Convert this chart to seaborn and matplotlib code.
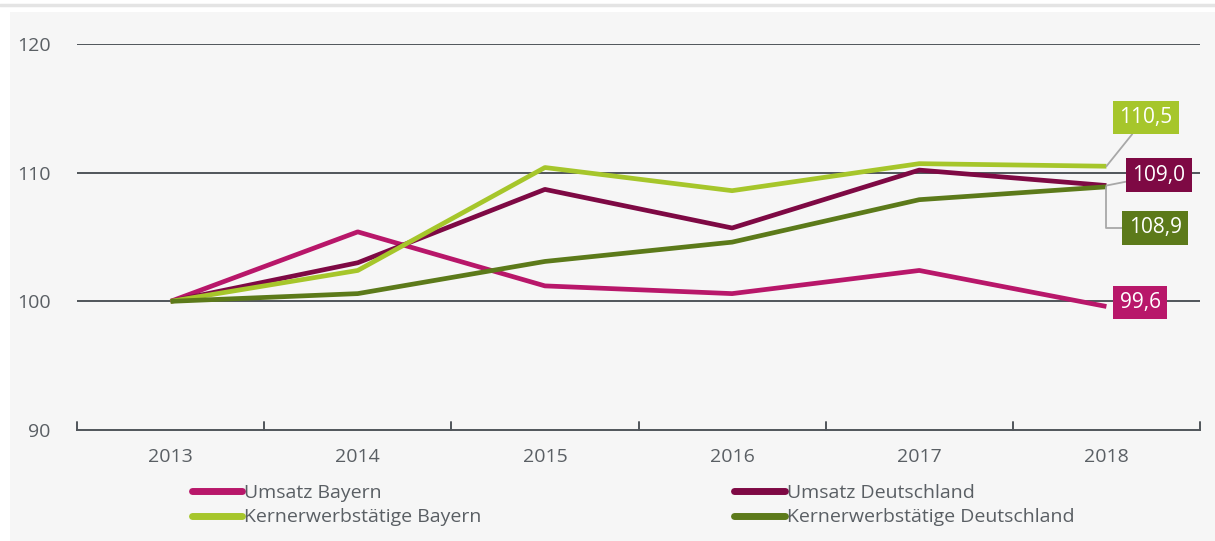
import numpy as np
import pandas as pd
import matplotlib
matplotlib.use("Agg")
import matplotlib.pyplot as plt
import seaborn as sns
from matplotlib.patches import Rectangle
from matplotlib.lines import Line2D

years = ["2013", "2014", "2015", "2016", "2017", "2018"]
series_names = ["Umsatz Bayern", "Umsatz Deutschland",
                "Kernerwerbstätige Bayern", "Kernerwerbstätige Deutschland"]
umsatz_bayern = [100.0, 105.4, 101.2, 100.6, 102.4, 99.6]
umsatz_de = [100.0, 103.0, 108.7, 105.7, 110.2, 109.0]
kern_bayern = [100.0, 102.4, 110.4, 108.6, 110.7, 110.5]
kern_de = [100.0, 100.6, 103.1, 104.6, 107.9, 108.9]
end_labels = ["99,6", "109,0", "110,5", "108,9"]
colors = ["#b8176a", "#7e0944", "#a6c62b", "#5c7a1a"]

df = pd.DataFrame({
    "year": years * 4,
    "x": list(range(len(years))) * 4,
    "value": umsatz_bayern + umsatz_de + kern_bayern + kern_de,
    "series": [s for s in series_names for _ in years],
})

sns.set_style("white")
plt.rcParams["font.family"] = ["Open Sans", "DejaVu Sans"]
text_grey = "#5a5f64"

fig = plt.figure(figsize=(12.15, 5.41), dpi=100)
fig.patches.append(Rectangle((10 / 1215, 0), 1, 1 - 12 / 541, transform=fig.transFigure,
                             facecolor="#f6f6f6", edgecolor="none", zorder=-10))
fig.lines.append(Line2D([0, 1], [1 - 5 / 541, 1 - 5 / 541], transform=fig.transFigure,
                        color="#e4e4e4", lw=2.5, zorder=-10))

ax = fig.add_axes([77 / 1215, 1 - 430 / 541, 1123 / 1215, 386 / 541])
ax.set_facecolor("none")

sns.lineplot(data=df, x="x", y="value", hue="series", palette=colors,
             linewidth=3.4, ax=ax, legend=False, zorder=3)
for line in ax.lines:
    line.set_solid_capstyle("butt")

ax.set_xlim(-0.5, 5.5)
ax.set_ylim(90, 120)
ax.set_yticks([90, 100, 110, 120])
ax.set_xticks(range(len(years)))
ax.set_xticklabels(years)
for y in [100, 110, 120]:
    ax.axhline(y, color="#50555a", lw=1.4, zorder=1)
for s in ["top", "right", "left"]:
    ax.spines[s].set_visible(False)
ax.spines["bottom"].set_color("#50555a")
ax.spines["bottom"].set_linewidth(1.4)
ax.tick_params(axis="x", length=0, pad=13, labelsize=14, labelcolor=text_grey)
ax.tick_params(axis="y", length=0, pad=19, labelsize=14, labelcolor=text_grey)
for b in np.arange(-0.5, 6.0, 1.0):
    ax.plot([b, b], [90, 90.6], color="#50555a", lw=1.4, clip_on=False, zorder=2)
ax.set_xlabel("")
ax.set_ylabel("")

# end value boxes
last = [umsatz_bayern[-1], umsatz_de[-1], kern_bayern[-1], kern_de[-1]]
box_pos = [(5.18, 99.9), (5.28, 109.8), (5.21, 114.3), (5.26, 105.7)]
conn = [None, "arc3", "arc3", "angle,angleA=0,angleB=90,rad=0"]
for i in range(4):
    arrow = None
    if conn[i] is not None:
        arrow = dict(arrowstyle="-", color="#a8a8a8", lw=1.3,
                     connectionstyle=conn[i], shrinkA=0, shrinkB=0)
    ax.annotate(end_labels[i], xy=(5, last[i]), xytext=box_pos[i],
                textcoords="data", ha="center", va="center", fontsize=15,
                color="white", annotation_clip=False, zorder=5,
                bbox=dict(boxstyle="square,pad=0.3", fc=colors[i], ec="none"),
                arrowprops=arrow)

handles = [Line2D([0], [0], color=c, lw=5, solid_capstyle="round") for c in colors]
order = [0, 2, 1, 3]
leg = fig.legend([handles[i] for i in order], [series_names[i] for i in order],
                 ncol=2, loc="upper left", bbox_to_anchor=(174 / 1215, 1 - 466 / 541),
                 frameon=False, fontsize=14, handlelength=2.6, handletextpad=0.1,
                 columnspacing=13.0, labelspacing=0.35)
for t in leg.get_texts():
    t.set_color(text_grey)

fig.savefig("out.png", dpi=100)
